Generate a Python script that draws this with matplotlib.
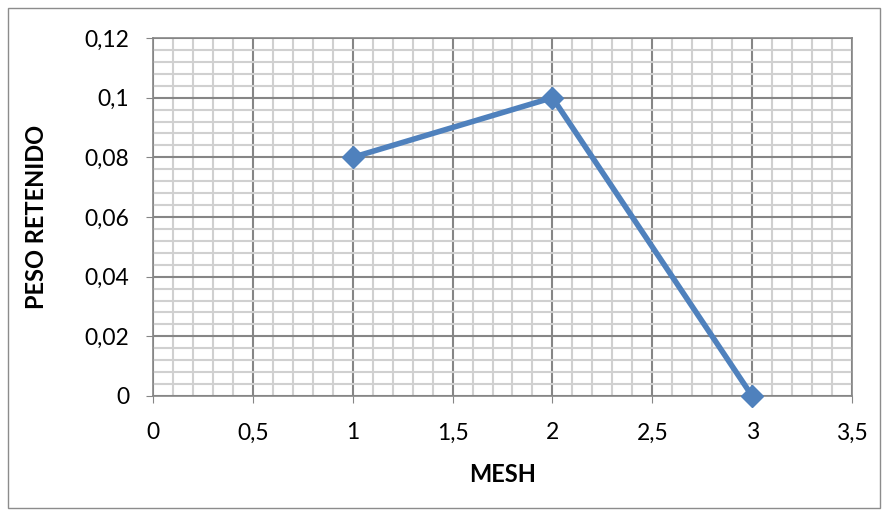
import matplotlib
matplotlib.use("Agg")
import matplotlib.pyplot as plt
from matplotlib.ticker import MultipleLocator, FuncFormatter
from matplotlib.patches import Rectangle

mesh = [1, 2, 3]
peso = [0.08, 0.10, 0.0]

fig = plt.figure(figsize=(8.87, 5.12), dpi=100)
fig.patches.append(Rectangle((8/887, 4/512), 872/887, 500/512, transform=fig.transFigure,
                             fill=False, edgecolor="#8c8c8c", linewidth=1.0))
ax = fig.add_axes([153/887, 116/512, 699/887, 358/512])
ax.set_xlim(0, 3.5)
ax.set_ylim(0, 0.12)
ax.xaxis.set_major_locator(MultipleLocator(0.5))
ax.xaxis.set_minor_locator(MultipleLocator(0.1))
ax.yaxis.set_major_locator(MultipleLocator(0.02))
ax.yaxis.set_minor_locator(MultipleLocator(0.004))

def fmt(v, pos):
    s = ("%.2f" % v).rstrip("0").rstrip(".")
    return s.replace(".", ",")

ax.xaxis.set_major_formatter(FuncFormatter(fmt))
ax.yaxis.set_major_formatter(FuncFormatter(fmt))
ax.grid(which="minor", color="#d0d0d0", linewidth=1.5)
ax.grid(which="major", color="#868686", linewidth=1.5)
ax.set_axisbelow(True)
for s in ax.spines.values():
    s.set_color("#868686")
    s.set_linewidth(1.2)
ax.tick_params(which="minor", length=0)
ax.tick_params(axis="x", which="major", length=5, color="#868686", labelsize=16.5, pad=14)
ax.tick_params(axis="y", which="major", length=5, color="#868686", labelsize=16.5, pad=12)
for lab in ax.get_xticklabels() + ax.get_yticklabels():
    lab.set_fontfamily("Lato")

ax.plot(mesh, peso, color="#4f81bd", linewidth=4, marker="D", markersize=11,
        markerfacecolor="#4f81bd", markeredgecolor="#4f81bd", clip_on=False, zorder=5)

ax.set_xlabel("MESH", fontsize=17, fontweight="bold", family="Lato", labelpad=14)
ax.set_ylabel("PESO RETENIDO", fontsize=17, fontweight="bold", family="Lato", labelpad=26)

fig.savefig("out.png", dpi=100)
